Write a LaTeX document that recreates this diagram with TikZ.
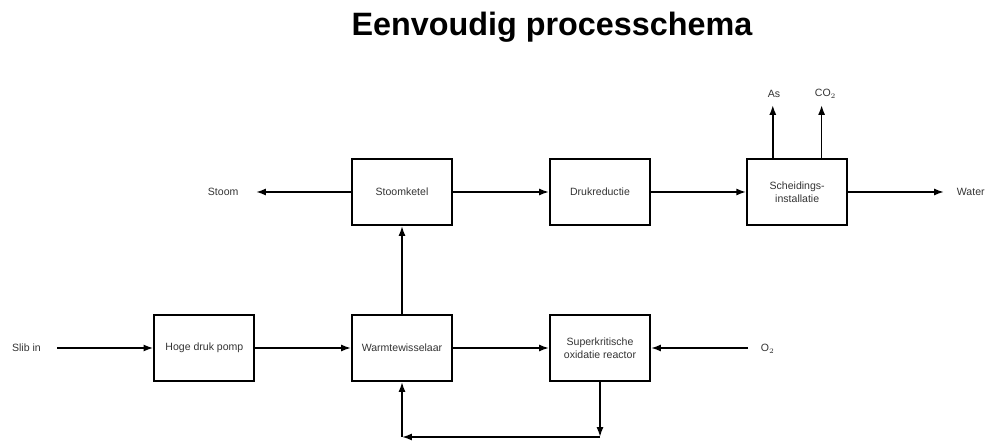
\documentclass[tikz,border=0pt]{standalone}
\usepackage{fontspec}
\setmainfont{Liberation Sans}
\usepackage{tikz}
\usetikzlibrary{positioning, arrows.meta}

\tikzset{
  unitbox/.style={draw, line width=1.4pt, minimum width=2.5cm, minimum height=1.65cm,
    align=center, font=\fontsize{7.5}{9}\selectfont, text=black!80},
  flowlabel/.style={font=\fontsize{7.5}{9}\selectfont, text=black!80, inner sep=1pt},
  flow/.style={->, line width=1.25pt}
}

\begin{document}
\begin{tikzpicture}[>={Latex[length=7pt,width=5pt]}]

\useasboundingbox (0, 0) rectangle (24.625, 11.025);

% --- Title ---
\node[font=\fontsize{23}{26}\selectfont\bfseries, anchor=base] (title) at (13.8, 10.125)
  {Eenvoudig processchema};

% --- Process units ---
\node[unitbox] (pomp) at (5.11, 2.325) {Hoge druk pomp};
\node[unitbox] (warmte) at (10.05, 2.325) {Warmtewisselaar};
\node[unitbox] (reactor) at (15.0, 2.325) {Superkritische\\oxidatie reactor};
\node[unitbox] (ketel) at (10.05, 6.225) {Stoomketel};
\node[unitbox] (druk) at (15.0, 6.225) {Drukreductie};
\node[unitbox] (scheiding) at (19.93, 6.225) {Scheidings-\\installatie};

% --- In- and outgoing streams ---
\node[flowlabel] (slib) at (0.66, 2.325) {Slib in};
\node[flowlabel] (stoom) at (5.58, 6.225) {Stoom};
\node[flowlabel, anchor=west] (water) at (23.88, 6.225) {Water};
\node[flowlabel, anchor=west] (zuurstof) at (18.98, 2.3) {O$_2$};
\node[flowlabel] (as) at (19.35, 8.675) {As};
\node[flowlabel, anchor=west] (co2) at (20.33, 8.675) {CO$_2$};

\coordinate (slibend) at (1.425, 2.325);
\coordinate (stoomend) at (6.4, 6.225);
\coordinate (waterend) at (23.6, 6.225);
\coordinate (o2end) at (18.7, 2.325);
\coordinate (asend) at (19.32, 8.4);
\coordinate (co2end) at (20.54, 8.4);

% --- Main line ---
\draw[flow] (slibend) -- (pomp);
\draw[flow] (pomp) -- (warmte);
\draw[flow] (warmte) -- (reactor);
\draw[flow] (o2end) -- (reactor);
\draw[flow] (warmte) -- (ketel);
\draw[flow] (ketel) -- (stoomend);
\draw[flow] (ketel) -- (druk);
\draw[flow] (druk) -- (scheiding);
\draw[flow] (scheiding) -- (waterend);
\draw[flow] (scheiding.north -| asend) -- (asend);
\draw[flow] (scheiding.north -| co2end) -- (co2end);

% --- Return from reactor to heat exchanger ---
\coordinate (rcorner) at (15.0, 0.1);
\coordinate (wcorner) at (10.05, 0.1);
\draw[flow] (reactor) -- (rcorner);
\draw[flow] (rcorner) -- (wcorner);
\draw[flow] (wcorner) -- (warmte);

\end{tikzpicture}
\end{document}
